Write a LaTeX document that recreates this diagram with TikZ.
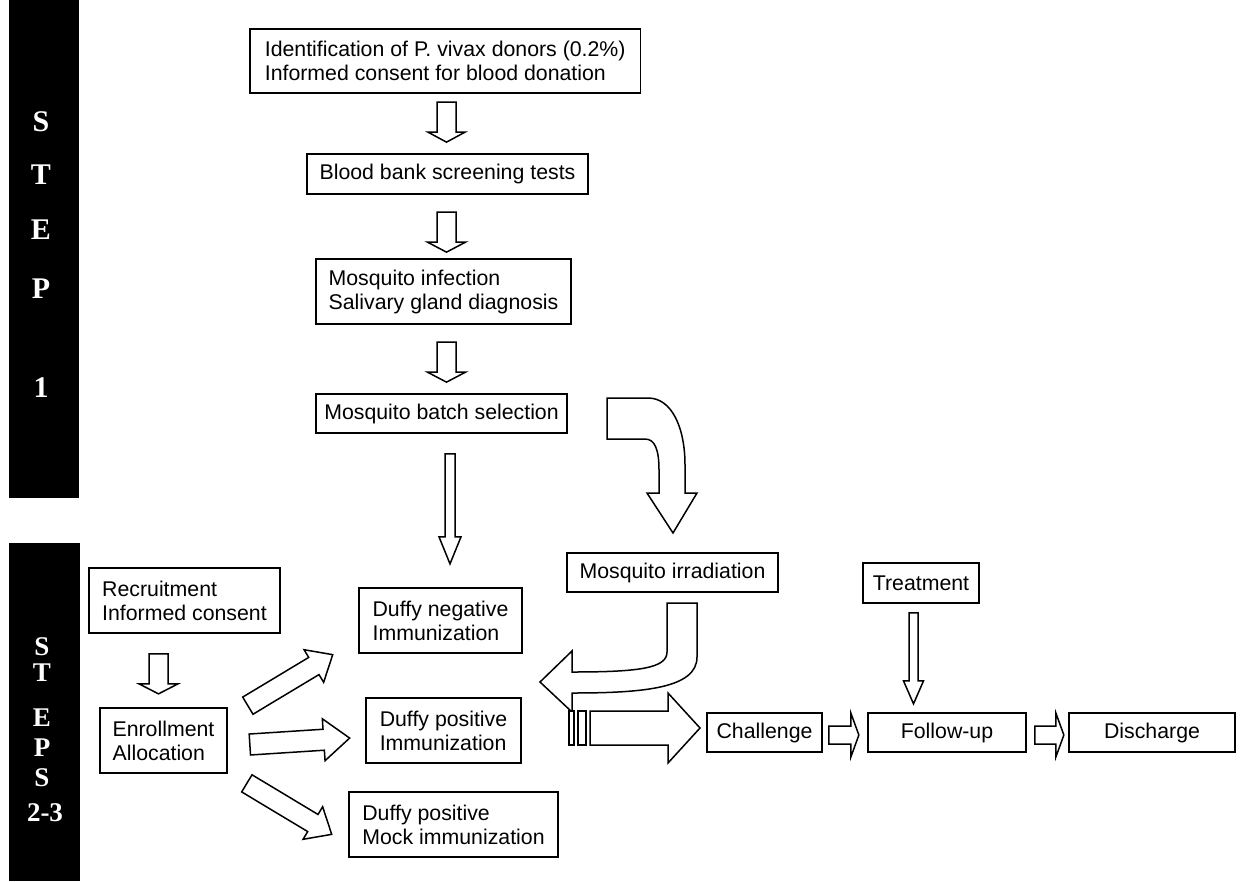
\documentclass[tikz,border=0pt]{standalone}
\usepackage{fontspec}
\setmainfont{Liberation Sans}
\newfontfamily\stepfont{Liberation Serif}
\usetikzlibrary{calc}
\begin{document}
\begin{tikzpicture}[x=1pt,y=-1pt,
  box/.style={draw, line width=1.7pt, inner sep=0pt, align=left, font=\fontsize{21.3}{24}\selectfont},
  blkline/.style={draw, line width=1.5pt, fill=white, line join=miter},
  steptxt/.style={text=white, font=\stepfont\bfseries\fontsize{30}{30}\selectfont, inner sep=0pt, anchor=center},
  steptxtb/.style={text=white, font=\stepfont\bfseries\fontsize{27}{27}\selectfont, inner sep=0pt, anchor=center},
  pics/blk/.style n args={4}{code={
    \path[blkline] (0,-#2/2) -- (#1-#4,-#2/2) -- (#1-#4,-#3/2) -- (#1,0) -- (#1-#4,#3/2) -- (#1-#4,#2/2) -- (0,#2/2) -- cycle;
  }}
]
\useasboundingbox (0,0) rectangle (1241,881);

% black side bars
\fill[black] (9,0) rectangle (79,498);
\fill[black] (9,543) rectangle (80,881);
\node[steptxt] (t1) at (41,122) {S};
\node[steptxt] (t2) at (41,175) {T};
\node[steptxt] (t3) at (41,230) {E};
\node[steptxt] (t4) at (41,289) {P};
\node[steptxt] (t5) at (41,388) {1};
\node[steptxtb] (u1) at (42,647) {S};
\node[steptxtb] (u2) at (42,673) {T};
\node[steptxtb] (u3) at (42,718) {E};
\node[steptxtb] (u4) at (42,748) {P};
\node[steptxtb] (u5) at (42,778) {S};
\node[steptxtb] (u6) at (45,813) {2-3};

% boxes
\node[box, inner xsep=15pt, minimum height=64pt, anchor=west] (b1) at (249,61) {Identification of P. vivax donors (0.2\%)\\Informed consent for blood donation};
\node[box, minimum width=281pt, minimum height=40pt] (b2) at (447.5,174) {Blood bank screening tests};
\node[box, minimum width=255pt, minimum height=65pt] (b3) at (443.5,291.5) {Mosquito infection\\Salivary gland diagnosis};
\node[box, minimum width=251pt, minimum height=39pt] (b4) at (441.5,413.5) {Mosquito batch selection};
\node[box, minimum width=211pt, minimum height=39pt] (irr) at (672.5,572.5) {Mosquito irradiation};
\node[box, minimum width=116pt, minimum height=40pt] (treat) at (921,583) {Treatment};
\node[box, minimum width=191pt, minimum height=65pt] (rec) at (184.5,600.5) {Recruitment\\Informed consent};
\node[box, minimum width=127pt, minimum height=65pt] (enr) at (163.5,740.5) {Enrollment\\Allocation};
\node[box, minimum width=163pt, minimum height=65pt] (dneg) at (440.5,620.5) {Duffy negative\\Immunization};
\node[box, minimum width=155pt, minimum height=65pt] (dpos) at (443.5,730.5) {Duffy positive\\Immunization};
\node[box, minimum width=209pt, minimum height=65pt] (dmock) at (453.5,824.5) {Duffy positive\\Mock immunization};
\node[box, minimum width=115pt, minimum height=39pt] (chal) at (764.5,732.5) {Challenge};
\node[box, minimum width=158pt, minimum height=39pt] (fol) at (947,732.5) {Follow-up};
\node[box, minimum width=166pt, minimum height=39pt] (dis) at (1152,732.5) {Discharge};

% straight block arrows
\pic[rotate=-90] at ($(b2.north)+(-1,-51)$) {blk={40}{19}{37}{10}};
\pic[rotate=-90] at ($(b3.north)+(3,-46)$) {blk={40}{19}{38}{10}};
\pic[rotate=-90] at ($(b4.north)+(5,-51)$) {blk={40}{19}{38}{10}};
\pic[rotate=-90] at ($(b4.south)+(8.5,20)$) {blk={110}{10}{22}{27}};
\pic[rotate=-90] at ($(treat.south)+(-7.5,9)$) {blk={91}{9}{20}{23}};
\pic[rotate=-90] at ($(rec.south)+(-26,20)$) {blk={40}{19}{39}{10}};
\pic at ($(chal.east)+(6,2.5)$) {blk={30}{18}{44}{8}};
\pic at ($(fol.east)+(8,2.5)$) {blk={29}{18}{44}{8}};
\pic[rotate=31] at ($(enr.north east)+(20,-1.5)$) {blk={99}{20}{38}{22}};
\pic[rotate=3.7] at ($(enr.east)+(22,4)$) {blk={100}{21}{42}{26}};
\pic[rotate=-31] at ($(enr.south east)+(19,9.5)$) {blk={99}{20}{38}{22}};

% curved arrow: batch selection -> irradiation
\path[blkline] (607,398) -- (648,398) .. controls (672,398) and (685,428) .. (685,465) -- (685,493) -- (697,493) -- (673,533) -- (647,493) -- (659,493) -- (659,470) .. controls (659,450) and (655,439) .. (645,439) -- (607,439) -- cycle;

% curved arrow: irradiation -> immunization
\path[blkline] (667,603) -- (697,603) -- (697,657) .. controls (697,688) and (645,693) .. (572,693) -- (572,712) -- (540,682) -- (572,651) -- (572,672) .. controls (640,672) and (667,668) .. (667,652) -- cycle;

% striped arrow -> challenge
\path[blkline] (569,711) rectangle (574,745);
\path[blkline] (578,711) rectangle (586,745);
\path[blkline] (590,711) -- (668,711) -- (668,693) -- (700,728) -- (668,763) -- (668,745) -- (590,745) -- cycle;
\end{tikzpicture}
\end{document}
